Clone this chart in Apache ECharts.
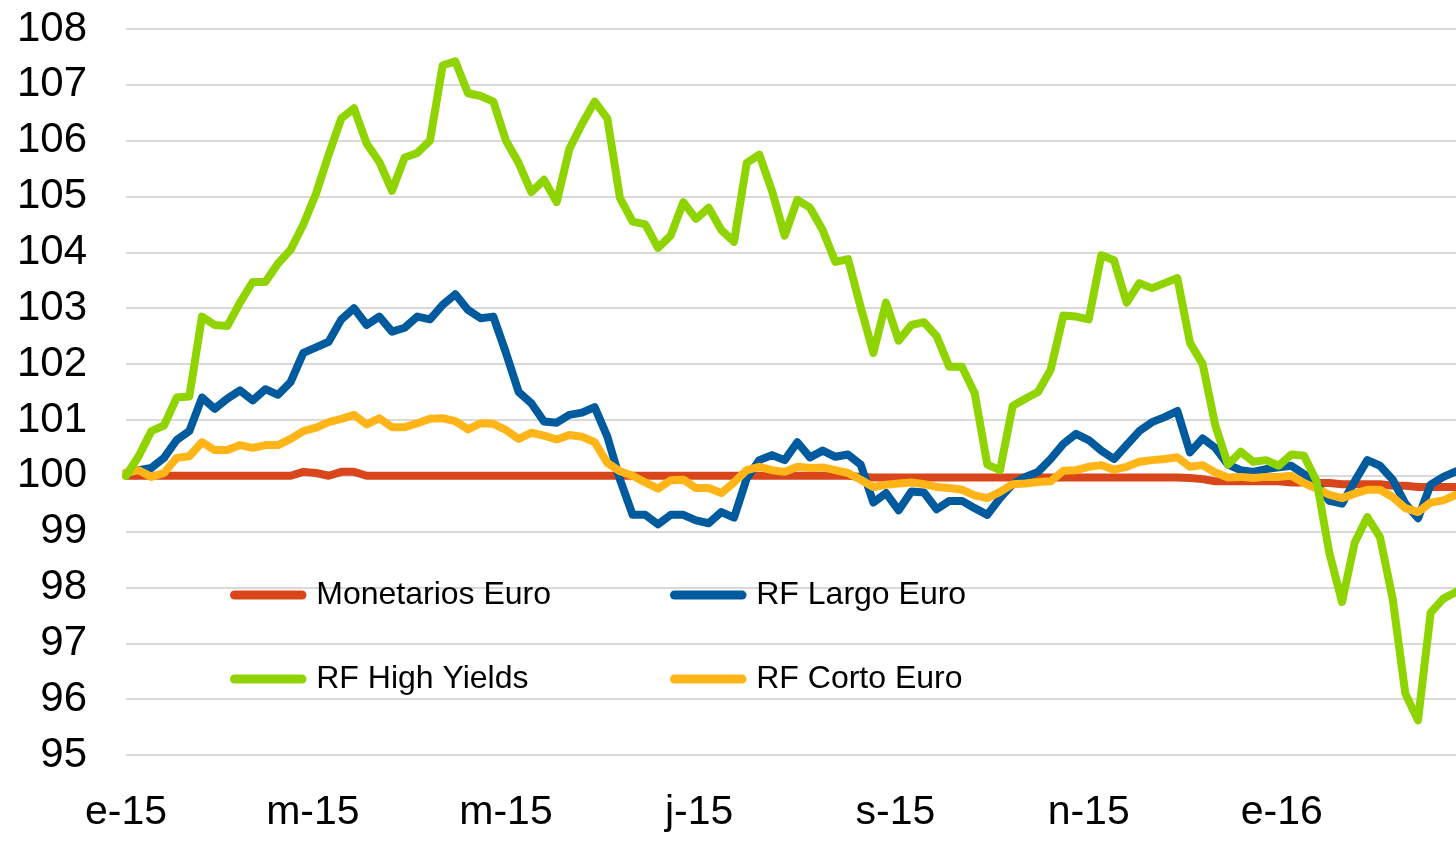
<!DOCTYPE html>
<html>
<head>
<meta charset="utf-8">
<script src="https://cdn.jsdelivr.net/npm/echarts@6/dist/echarts.min.js"></script>
<style>
  html, body { margin: 0; padding: 0; background: #fff; }
  #chart { width: 1456px; height: 844px; }
</style>
</head>
<body>
<div id="chart"></div>
<script>
// dias desde el 1 de enero de 2015 (muestra cada 4 dias)
var days = [0,4,8,12,16,20,24,28,32,36,40,44,48,52,56,60,64,68,72,76,
  80,84,88,92,96,100,104,108,112,116,120,124,128,132,136,140,144,148,152,156,
  160,164,168,172,176,180,184,188,192,196,200,204,208,212,216,220,224,228,232,236,
  240,244,248,252,256,260,264,268,272,276,280,284,288,292,296,300,304,308,312,316,
  320,324,328,332,336,340,344,348,352,356,360,364,368,372,376,380,384,388,392,396,
  400,404,408,412,416,420];

// etiquetas del eje x
var tickDays = [0, 59, 120, 181, 243, 304, 365];
var tickLabels = ['e-15', 'm-15', 'm-15', 'j-15', 's-15', 'n-15', 'e-16'];

var monetarios = [100,100,100,100,100,100,100,100,100,100,
  100,100,100,100,100.07,100.05,100,100.07,100.07,100,
  100,100,100,100,100,100,100,100,100,100,
  100,100,100,100,100,100,100,100,100,100,
  100,100,100,100,100,100,100,100,100,100,
  100,100,100,100,100,100,100,100,99.98,99.97,
  99.97,99.97,99.97,99.97,99.97,99.97,99.97,99.97,99.97,99.97,
  99.97,99.97,99.97,99.97,99.97,99.97,99.97,99.97,99.97,99.97,
  99.97,99.97,99.97,99.97,99.96,99.94,99.9,99.9,99.9,99.9,
  99.9,99.9,99.88,99.88,99.87,99.87,99.85,99.85,99.85,99.85,
  99.82,99.82,99.8,99.8,99.8,99.8];

var largo = [100.05,100.1,100.14,100.32,100.64,100.8,101.4,101.2,101.38,101.53,
  101.35,101.55,101.45,101.68,102.2,102.3,102.4,102.8,103.0,102.7,
  102.85,102.58,102.65,102.85,102.8,103.06,103.25,102.97,102.82,102.85,
  102.2,101.5,101.3,100.97,100.95,101.09,101.13,101.23,100.7,99.93,
  99.3,99.3,99.13,99.3,99.3,99.2,99.15,99.35,99.25,99.95,
  100.28,100.37,100.28,100.6,100.33,100.45,100.34,100.38,100.2,99.52,
  99.69,99.38,99.72,99.7,99.4,99.55,99.55,99.42,99.3,99.6,
  99.85,99.98,100.07,100.3,100.57,100.75,100.64,100.45,100.3,100.55,
  100.8,100.96,101.05,101.16,100.42,100.67,100.5,100.2,100.1,100.07,
  100.12,100.15,100.18,100.03,99.85,99.55,99.5,99.9,100.28,100.18,
  99.93,99.5,99.24,99.84,99.98,100.08];

var corto = [100.05,100.1,99.98,100.05,100.32,100.35,100.6,100.46,100.46,100.55,
  100.5,100.55,100.55,100.66,100.8,100.86,100.96,101.02,101.09,100.92,
  101.03,100.87,100.87,100.94,101.02,101.03,100.98,100.83,100.94,100.93,
  100.82,100.66,100.77,100.72,100.65,100.73,100.7,100.6,100.23,100.08,
  100.0,99.88,99.77,99.92,99.93,99.78,99.78,99.69,99.88,100.1,
  100.16,100.1,100.07,100.16,100.14,100.15,100.1,100.05,99.93,99.8,
  99.84,99.86,99.88,99.85,99.8,99.78,99.75,99.65,99.6,99.71,
  99.85,99.86,99.89,99.9,100.09,100.1,100.16,100.19,100.11,100.16,
  100.25,100.28,100.3,100.33,100.16,100.19,100.06,99.97,99.98,99.96,
  99.98,99.98,100.0,99.87,99.77,99.66,99.6,99.68,99.75,99.75,
  99.62,99.42,99.35,99.52,99.56,99.66];

var highYields = [100.0,100.35,100.8,100.9,101.4,101.42,102.85,102.7,102.68,103.1,
  103.47,103.47,103.8,104.05,104.5,105.05,105.75,106.4,106.58,105.95,
  105.62,105.1,105.7,105.78,106.0,107.35,107.42,106.85,106.8,106.7,
  106.0,105.6,105.08,105.3,104.9,105.85,106.3,106.7,106.4,104.97,
  104.55,104.5,104.08,104.3,104.9,104.6,104.8,104.4,104.19,105.6,
  105.75,105.1,104.3,104.94,104.8,104.4,103.83,103.88,103.02,102.2,
  103.1,102.42,102.7,102.75,102.5,101.95,101.95,101.48,100.2,100.1,
  101.25,101.38,101.5,101.9,102.87,102.85,102.8,103.95,103.86,103.1,
  103.45,103.36,103.45,103.54,102.38,102.0,100.9,100.2,100.43,100.25,
  100.28,100.18,100.38,100.36,99.9,98.62,97.74,98.8,99.26,98.9,
  97.8,96.1,95.62,97.55,97.8,97.92];

function pares(vals) {
  return days.map(function (d, i) { return [d, vals[i]]; });
}

var fuente = '"Liberation Sans", Arial, sans-serif';
var icono = 'path://M5,0 H80 A5,5 0 0 1 80,10 H5 A5,5 0 0 1 5,0 Z';

function leyenda(nombre, x, y) {
  return {
    data: [nombre], left: x, top: y, padding: 0,
    icon: icono, itemWidth: 86, itemHeight: 9,
    textStyle: { fontSize: 32, color: '#000', fontFamily: fuente }
  };
}

function serie(nombre, vals, color) {
  return {
    name: nombre, type: 'line', data: pares(vals),
    symbol: 'none', smooth: false,
    lineStyle: { width: 8, color: color, cap: 'round', join: 'round' },
    itemStyle: { color: color }
  };
}

var myChart = echarts.init(document.getElementById('chart'));

var option = {
  animation: false,
  backgroundColor: '#fff',
  grid: { left: 126, right: 0, top: 29, bottom: 89 },
  legend: [
    leyenda('Monetarios Euro', 230, 579),
    leyenda('RF Largo Euro', 670, 579),
    leyenda('RF High Yields', 230, 663),
    leyenda('RF Corto Euro', 670, 663)
  ],
  xAxis: {
    type: 'value', min: 0, max: 420,
    axisLine: { show: false },
    axisTick: { show: false },
    splitLine: { show: false },
    axisLabel: {
      customValues: tickDays,
      formatter: function (v) {
        var k = tickDays.indexOf(v);
        return k >= 0 ? tickLabels[k] : '';
      },
      fontSize: 41, color: '#000', fontFamily: fuente, margin: 37
    }
  },
  yAxis: {
    type: 'value', min: 95, max: 108, interval: 1,
    axisLine: { show: false },
    axisTick: { show: false },
    splitLine: { lineStyle: { color: '#D9D9D9', width: 2 } },
    axisLabel: { fontSize: 42, color: '#000', fontFamily: fuente, margin: 39 }
  },
  series: [
    serie('Monetarios Euro', monetarios, '#D9461B'),
    serie('RF Largo Euro', largo, '#005A9E'),
    serie('RF Corto Euro', corto, '#FFB517'),
    serie('RF High Yields', highYields, '#8FD400')
  ]
};

myChart.setOption(option);
</script>
</body>
</html>
